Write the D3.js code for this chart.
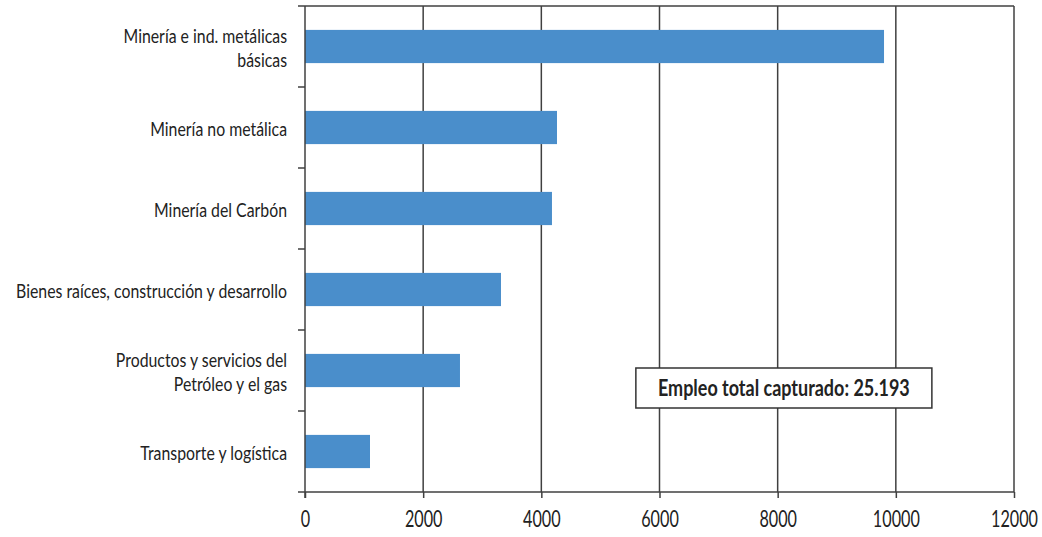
<!DOCTYPE html>
<html>
<head>
<meta charset="utf-8">
<script src="https://cdn.jsdelivr.net/npm/d3@7"></script>
<style>
  body { margin: 0; background: #fff; }
  text { font-family: Lato, "Open Sans", sans-serif; fill: #222; }
</style>
</head>
<body>
<div id="chart"></div>
<script>
var categories = [
    ['Minería e ind. metálicas', 'básicas'],
    ['Minería no metálica'],
    ['Minería del Carbón'],
    ['Bienes raíces, construcción y desarrollo'],
    ['Productos y servicios del', 'Petróleo y el gas'],
    ['Transporte y logística']
];
var values = [9800, 4265, 4180, 3317, 2623, 1100];
var xTicks = [0, 2000, 4000, 6000, 8000, 10000, 12000];
var totalLabel = 'Empleo total capturado: 25.193';

var width = 1042, height = 537;
var margin = { top: 6, right: 28, bottom: 45, left: 305 };
var innerWidth = width - margin.left - margin.right;
var innerHeight = height - margin.top - margin.bottom;

var svg = d3.select('#chart').append('svg')
    .attr('width', width)
    .attr('height', height);

// the reference type is a narrow face; squeeze Lato horizontally to match
function squeeze(str, size, weight, target) {
    var t = svg.append('text').style('font-size', size + 'px').style('font-weight', weight).text(str);
    var w = t.node().getComputedTextLength();
    t.remove();
    return target / w;
}
var sxCat = squeeze('Bienes raíces, construcción y desarrollo', 19, 'normal', 271);
var sxTick = squeeze('12000', 23, 'normal', 47);
var sxBox = squeeze(totalLabel, 23, 'bold', 252);

var g = svg.append('g').attr('transform', 'translate(' + margin.left + ',' + margin.top + ')');

var x = d3.scaleLinear().domain([0, 12000]).range([0, innerWidth]);
var y = d3.scaleBand().domain(d3.range(categories.length)).range([0, innerHeight])
    .paddingInner(0.59).paddingOuter(0.295);
var yOuter = d3.scaleBand().domain(d3.range(categories.length)).range([0, innerHeight]);

// vertical grid lines
g.selectAll('line.grid')
    .data(xTicks.slice(1))
    .enter().append('line')
    .attr('class', 'grid')
    .attr('x1', function(d){ return x(d); })
    .attr('x2', function(d){ return x(d); })
    .attr('y1', 0).attr('y2', innerHeight)
    .attr('stroke', '#404040').attr('stroke-width', 1.5);

// top border
g.append('line')
    .attr('x1', -7).attr('x2', innerWidth)
    .attr('y1', 0).attr('y2', 0)
    .attr('stroke', '#404040').attr('stroke-width', 1.5);

// bars
g.selectAll('rect.bar')
    .data(values)
    .enter().append('rect')
    .attr('class', 'bar')
    .attr('x', 0)
    .attr('y', function(d, i){ return y(i); })
    .attr('width', function(d){ return x(d); })
    .attr('height', y.bandwidth())
    .attr('fill', '#4a8ecb');

// bottom axis
var xAxis = g.append('g')
    .attr('transform', 'translate(0,' + innerHeight + ')')
    .call(d3.axisBottom(x).tickValues(xTicks).tickFormat(d3.format('d')).tickSize(6).tickPadding(13).tickSizeOuter(0));
xAxis.select('.domain').attr('stroke', '#404040').attr('stroke-width', 1.5).attr('d', 'M-7,0H' + innerWidth);
xAxis.selectAll('.tick line').attr('stroke', '#404040').attr('stroke-width', 1.5);
xAxis.selectAll('.tick text')
    .style('font-size', '23px').style('font-family', 'Lato, sans-serif')
    .attr('fill', '#222')
    .attr('transform', 'scale(' + sxTick + ',1)');

// left axis line and ticks at category boundaries
g.append('line')
    .attr('x1', 0).attr('x2', 0).attr('y1', 0).attr('y2', innerHeight + 6)
    .attr('stroke', '#404040').attr('stroke-width', 1.5);
g.selectAll('line.ytick')
    .data(d3.range(1, categories.length))
    .enter().append('line')
    .attr('class', 'ytick')
    .attr('x1', -7).attr('x2', 0)
    .attr('y1', function(i){ return yOuter(i); })
    .attr('y2', function(i){ return yOuter(i); })
    .attr('stroke', '#404040').attr('stroke-width', 1.5);

// category labels
var labels = g.selectAll('text.cat')
    .data(categories)
    .enter().append('text')
    .attr('class', 'cat')
    .attr('text-anchor', 'end')
    .style('font-size', '19px')
    .attr('transform', function(d, i){
        var cy = y(i) + y.bandwidth() / 2 + 1.5;
        return 'translate(-18,' + (cy - (d.length - 1) * 12) + ') scale(' + sxCat + ',1)';
    });
labels.selectAll('tspan')
    .data(function(d){ return d; })
    .enter().append('tspan')
    .attr('x', 0)
    .attr('dy', function(d, i){ return i === 0 ? '0.35em' : 24; })
    .text(function(d){ return d; });

// total box
var boxX = x(5600), boxW = x(10610) - x(5600);
var box = g.append('g').attr('transform', 'translate(' + boxX + ',' + 362 + ')');
box.append('rect')
    .attr('width', boxW).attr('height', 40)
    .attr('fill', '#fff').attr('stroke', '#333').attr('stroke-width', 1.5);
box.append('text')
    .attr('transform', 'translate(' + (boxW / 2) + ',20) scale(' + sxBox + ',1)')
    .attr('dy', '0.35em')
    .attr('text-anchor', 'middle')
    .style('font-size', '23px').style('font-weight', 'bold')
    .text(totalLabel);
</script>
</body>
</html>
